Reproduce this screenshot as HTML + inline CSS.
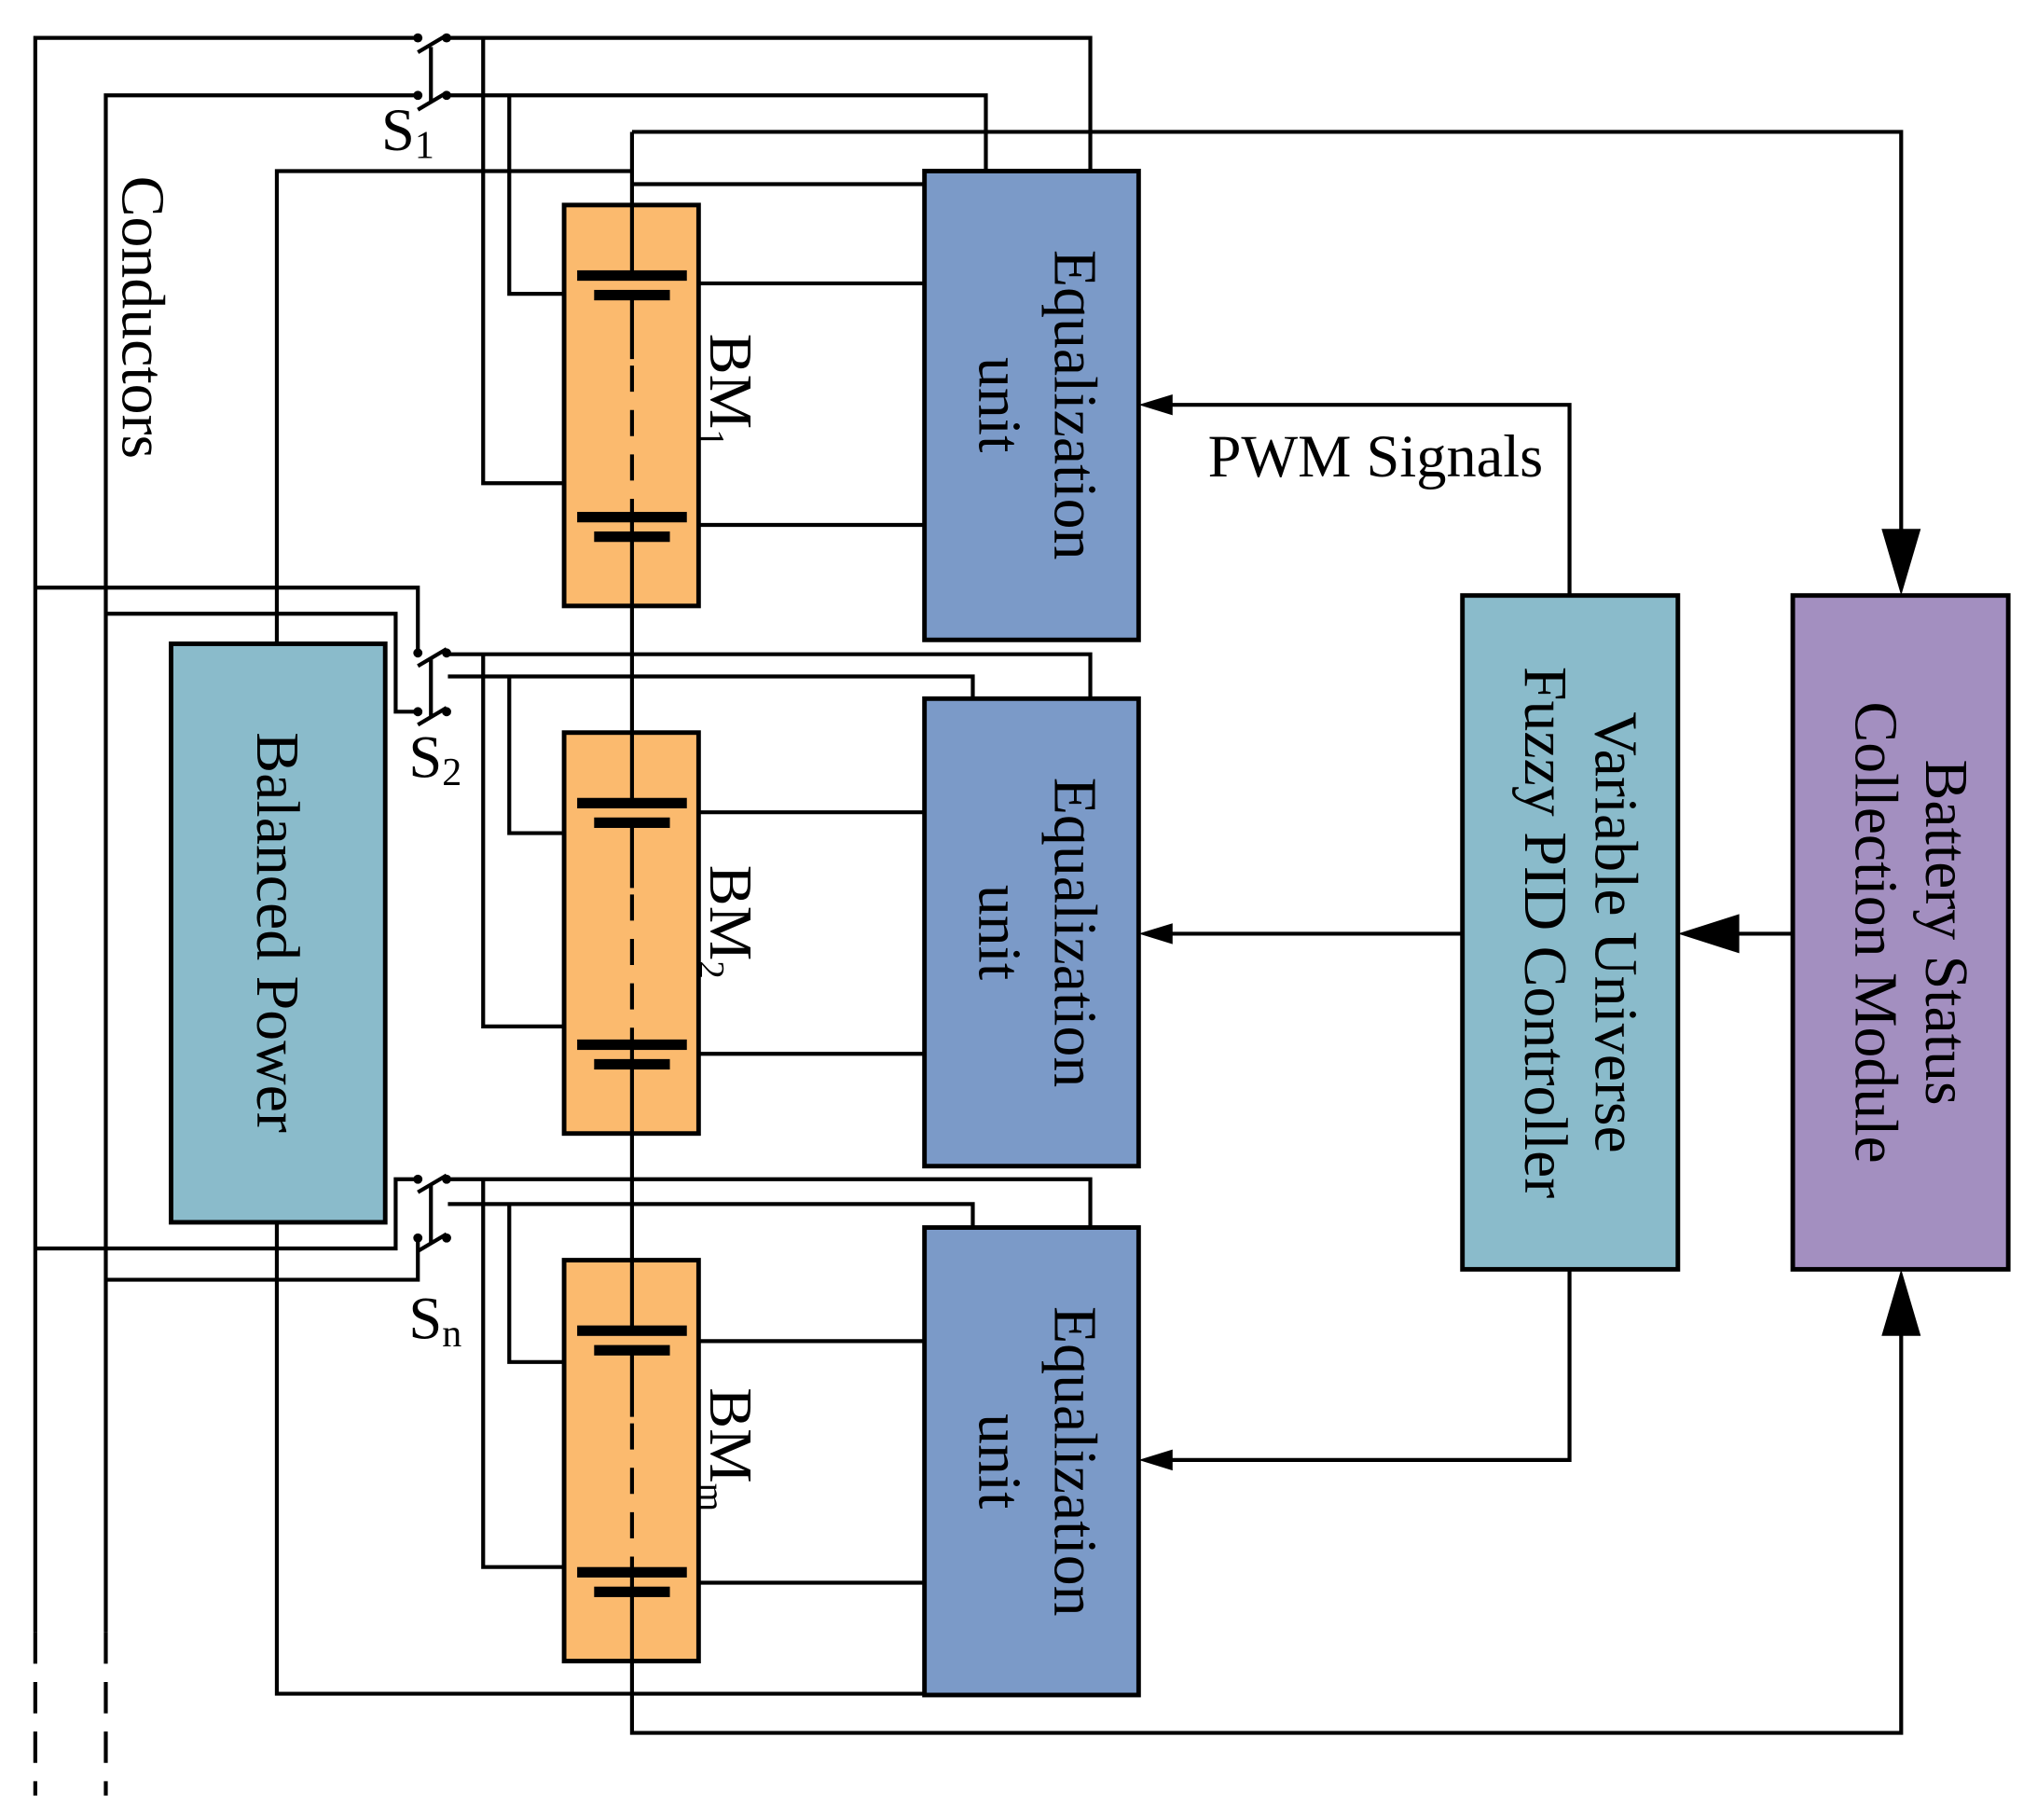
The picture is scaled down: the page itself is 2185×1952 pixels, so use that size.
<!DOCTYPE html>
<html><head><style>html,body{margin:0;padding:0;background:#fff}svg{display:block}</style></head><body>
<svg width="2185" height="1952" viewBox="0 0 1560 1393.7" xmlns="http://www.w3.org/2000/svg" font-family="Liberation Serif, serif">
<g fill="none" stroke="#000" stroke-width="3">
<path d="M27,1250 V29 H320 M81,1250 V73 H320"/>
<path d="M27,1250 V1375 M81,1250 V1375" stroke-dasharray="24,14"/>
<path d="M343,29 H835 V131 M343,73 H755 V131 M370,29 V370 H432 M390,73 V225 H432"/>
<path d="M320,40 L342,27 M320,84 L342,71 M330,36 V78"/>
<path d="M484,101 H1456 V420"/>
<path d="M212,493 V131 H484 M484,141 H708"/>
<path d="M484,101 V157 M484,464 V561 M484,868 V965 M484,1272 V1327 H1456 V1010"/>
<path d="M27,450 H320 V500 M81,470 H303 V545 H320"/>
<path d="M320,510 L342,497 M320,555 L342,542 M330,505 V550"/>
<path d="M343,501 H835 V535 M343,518 H745 V535 M370,501 V786 H432 M390,518 V638 H432"/>
<path d="M27,956 H303 V903 H320 M81,980 H320 V948"/>
<path d="M320,913 L342,900 M320,958 L342,945 M330,908 V953"/>
<path d="M343,903 H835 V940 M343,922 H745 V940 M370,903 V1200 H432 M390,922 V1043 H432"/>
<path d="M212,936 V1297 H708"/>
<path d="M535,217 H708 M535,402 H708 M535,622 H708 M535,807 H708 M535,1027 H708 M535,1212 H708"/>
<path d="M1202,456 V310 H880 M1120,715 H880 M1202,972 V1118 H880"/>
<path d="M1373,715 H1300"/>
</g>
<g fill="#000">
<circle cx="320" cy="29" r="3.5"/><circle cx="342" cy="29" r="3.5"/><circle cx="320" cy="73" r="3.5"/><circle cx="342" cy="73" r="3.5"/>
<circle cx="320" cy="500" r="3.5"/><circle cx="342" cy="500" r="3.5"/><circle cx="320" cy="545" r="3.5"/><circle cx="342" cy="545" r="3.5"/>
<circle cx="320" cy="903" r="3.5"/><circle cx="342" cy="903" r="3.5"/><circle cx="320" cy="948" r="3.5"/><circle cx="342" cy="948" r="3.5"/>
<path d="M872,310 L898,302 L898,318 z"/><path d="M872,715 L898,707 L898,723 z"/><path d="M872,1118 L898,1110 L898,1126 z"/>
<path d="M1285,715 L1332,700 L1332,730 z"/>
<path d="M1456,456 L1441,405 L1471,405 z"/>
<path d="M1456,972 L1441,1023 L1471,1023 z"/>
</g>
<g stroke="#000" stroke-width="3.5">
<rect x="432" y="157" width="103" height="307" fill="#FBBA6E"/>
<rect x="432" y="561" width="103" height="307" fill="#FBBA6E"/>
<rect x="432" y="965" width="103" height="307" fill="#FBBA6E"/>
</g>
<g stroke="#000" stroke-width="3">
<path d="M484,157 V211 M484,226 V275 M484,396 V464 M484,561 V615 M484,630 V680 M484,800 V868 M484,965 V1019 M484,1034 V1085 M484,1204 V1272"/>
<path d="M484,280 V396 M484,685 V800 M484,1090 V1204" stroke-dasharray="20,14"/>
</g>
<g fill="#000">
<rect x="442" y="207" width="84" height="8"/><rect x="455" y="222" width="58" height="8"/>
<rect x="442" y="392" width="84" height="8"/><rect x="455" y="407" width="58" height="8"/>
<rect x="442" y="611" width="84" height="8"/><rect x="455" y="626" width="58" height="8"/>
<rect x="442" y="796" width="84" height="8"/><rect x="455" y="811" width="58" height="8"/>
<rect x="442" y="1015" width="84" height="8"/><rect x="455" y="1030" width="58" height="8"/>
<rect x="442" y="1200" width="84" height="8"/><rect x="455" y="1215" width="58" height="8"/>
</g>
<g stroke="#000" stroke-width="3.5">
<rect x="708" y="131" width="164" height="359" fill="#7B9AC8"/>
<rect x="708" y="535" width="164" height="358" fill="#7B9AC8"/>
<rect x="708" y="940" width="164" height="358" fill="#7B9AC8"/>
<rect x="131" y="493" width="164" height="443" fill="#8ABBCB"/>
<rect x="1120" y="456" width="165" height="516" fill="#8ABBCB"/>
<rect x="1373" y="456" width="165" height="516" fill="#A38FC0"/>
</g>
<g font-size="47" fill="#000" text-anchor="middle">
<g transform="translate(790,310) rotate(90)"><text x="0" y="-18">Equalization</text><text x="0" y="40">unit</text></g>
<g transform="translate(790,714) rotate(90)"><text x="0" y="-18">Equalization</text><text x="0" y="40">unit</text></g>
<g transform="translate(790,1119) rotate(90)"><text x="0" y="-18">Equalization</text><text x="0" y="40">unit</text></g>
<g transform="translate(213,714) rotate(90)"><text x="0" y="16">Balanced Power</text></g>
<g transform="translate(1202,714) rotate(90)"><text x="0" y="-20">Variable Universe</text><text x="0" y="34">Fuzzy PID Controller</text></g>
<g transform="translate(1455,714) rotate(90)"><text x="0" y="-20">Battery Status</text><text x="0" y="34">Collection Module</text></g>
<g transform="translate(110,243) rotate(90)"><text x="0" y="16">Conductors</text></g>
<g transform="translate(560,307) rotate(90)"><text x="-8" y="16">BM<tspan font-size="28" dy="8">1</tspan></text></g>
<g transform="translate(560,714) rotate(90)"><text x="-8" y="16">BM<tspan font-size="28" dy="8">2</tspan></text></g>
<g transform="translate(560,1118) rotate(90)"><text x="-8" y="16">BM<tspan font-size="28" dy="8">m</tspan></text></g>
</g>
<g font-size="46" fill="#000">
<text x="925" y="365">PWM Signals</text>
<text x="292" y="115">S<tspan font-size="30" dy="6">1</tspan></text>
<text x="313" y="595">S<tspan font-size="30" dy="6">2</tspan></text>
<text x="313" y="1025">S<tspan font-size="30" dy="6">n</tspan></text>
</g>
</svg>
</body></html>
